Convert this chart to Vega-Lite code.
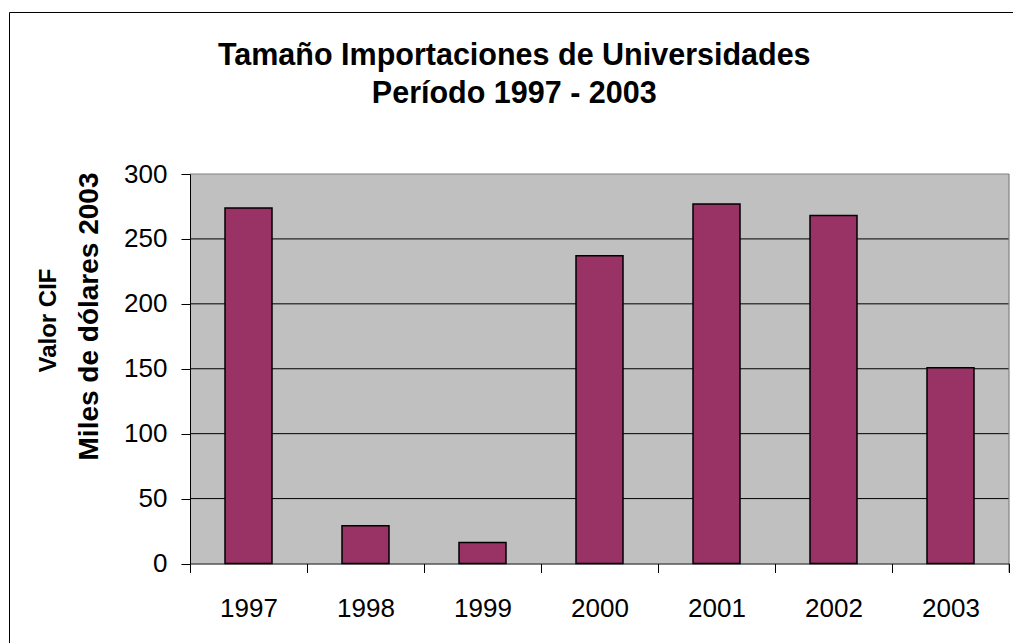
{
  "$schema": "https://vega.github.io/schema/vega-lite/v6.json",
  "width": 1004.5,
  "height": 631.5,
  "autosize": {"type": "none"},
  "padding": {"left": 9, "top": 12, "right": 0, "bottom": 0},
  "background": "white",
  "config": {
    "font": "Liberation Sans",
    "view": {"stroke": "black", "strokeWidth": 1, "fill": "white"}
  },
  "title": {
    "text": ["Tamaño Importaciones de Universidades", "Período 1997 - 2003"],
    "font": "Liberation Sans",
    "fontSize": 30.5,
    "fontWeight": "bold",
    "color": "black",
    "anchor": "middle",
    "frame": "group",
    "lineHeight": 38.4,
    "baseline": "top",
    "offset": -98,
    "dx": 3
  },
  "data": {
    "values": [
      {"year": 1997, "value": 273.8},
      {"year": 1998, "value": 29.0},
      {"year": 1999, "value": 16.2},
      {"year": 2000, "value": 237.0},
      {"year": 2001, "value": 276.9},
      {"year": 2002, "value": 268.1},
      {"year": 2003, "value": 150.7}
    ]
  },
  "layer": [
    {
      "data": {"values": [{}]},
      "mark": {"type": "rect", "fill": "#C0C0C0"},
      "encoding": {
        "x": {"datum": 1996.5, "type": "quantitative", "scale": {"domain": [1996.5, 2003.5], "range": [181, 1000], "nice": false, "zero": false, "padding": 0},
          "axis": {
            "orient": "bottom", "offset": -80, "zindex": 1,
            "values": [1996.5, 1997.5, 1998.5, 1999.5, 2000.5, 2001.5, 2002.5, 2003.5],
            "labelExpr": "datum.value < 2003 ? format(datum.value + 0.5, 'd') : ''",
            "labelOffset": 58.5,
            "labelFlush": false,
            "labelOverlap": false,
            "labelFontSize": 26, "labelColor": "black", "labelPadding": 22.5,
            "labelFont": "Liberation Sans",
            "tickSize": 9, "tickColor": "black", "domainColor": "black",
            "grid": false,
            "title": "Valor CIF",
            "titleFont": "Liberation Sans",
            "titleFontSize": 24, "titleFontWeight": "bold", "titleColor": "black",
            "titleAngle": -90,
            "titleAlign": "center",
            "titleBaseline": "middle",
            "titleX": 39,
            "titleY": -243.5
          }},
        "x2": {"datum": 2003.5},
        "y": {"datum": 0, "type": "quantitative", "scale": {"domain": [0, 300], "range": [551.5, 162], "nice": false, "padding": 0},
          "axis": {
            "orient": "left", "offset": -181, "zindex": 1,
            "values": [0, 50, 100, 150, 200, 250, 300],
            "labelFlush": false,
            "labelOverlap": false,
            "labelFontSize": 26, "labelColor": "black", "labelPadding": 14,
            "labelFont": "Liberation Sans",
            "tickSize": 9, "tickColor": "black", "domainColor": "black",
            "grid": false,
            "title": "Miles de dólares 2003",
            "titleFont": "Liberation Sans",
            "titleFontSize": 28, "titleFontWeight": "bold", "titleColor": "black",
            "titleAngle": -90,
            "titleAlign": "center",
            "titleBaseline": "middle",
            "titleX": -101,
            "titleY": 304
          }},
        "y2": {"datum": 300}
      }
    },
    {
      "data": {"values": [{"g": 50}, {"g": 100}, {"g": 150}, {"g": 200}, {"g": 250}]},
      "mark": {"type": "rule", "color": "black", "strokeWidth": 1},
      "encoding": {
        "x": {"datum": 1996.5, "type": "quantitative"},
        "x2": {"datum": 2003.5},
        "y": {"field": "g", "type": "quantitative"}
      }
    },
    {
      "mark": {"type": "bar", "width": 47, "fill": "#993366", "stroke": "black", "strokeWidth": 1.5},
      "encoding": {
        "x": {"field": "year", "type": "quantitative"},
        "y": {"field": "value", "type": "quantitative"},
        "y2": {"datum": 0}
      }
    },
    {
      "data": {"values": [{}]},
      "mark": {"type": "rule", "color": "#808080", "strokeWidth": 1.2},
      "encoding": {
        "x": {"datum": 1996.5, "type": "quantitative"},
        "x2": {"datum": 2003.5},
        "y": {"datum": 300, "type": "quantitative"}
      }
    },
    {
      "data": {"values": [{}]},
      "mark": {"type": "rule", "color": "#808080", "strokeWidth": 1.2, "y2Offset": 9},
      "encoding": {
        "x": {"datum": 2003.5, "type": "quantitative"},
        "y": {"datum": 300, "type": "quantitative"},
        "y2": {"datum": 0}
      }
    }
  ]
}
